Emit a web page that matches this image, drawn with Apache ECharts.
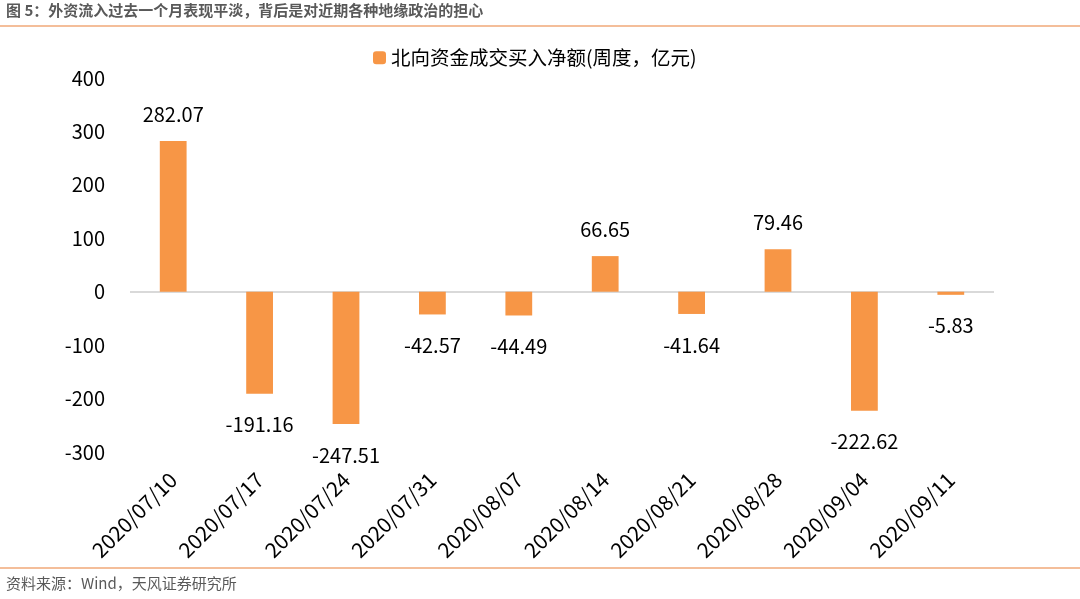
<!DOCTYPE html>
<html><head><meta charset="utf-8">
<script src="https://cdn.jsdelivr.net/npm/echarts@6/dist/echarts.min.js"></script>
<style>html,body{margin:0;padding:0;background:#fff}#c{width:1080px;height:599px}</style>
</head><body><div id="c"></div>
<script>
const categories = ['2020/07/10','2020/07/17','2020/07/24','2020/07/31','2020/08/07','2020/08/14','2020/08/21','2020/08/28','2020/09/04','2020/09/11'];
const netBuy = [282.07,-191.16,-247.51,-42.57,-44.49,66.65,-41.64,79.46,-222.62,-5.83];
const seriesName = '北向资金成交买入净额(周度，亿元)';
const titleText = '图 5：外资流入过去一个月表现平淡，背后是对近期各种地缘政治的担心';
const sourceText = '资料来源：Wind，天风证券研究所';
const yTicks = {min:-300, max:400, interval:100};

const font = '"Noto Sans CJK SC", "Noto Sans", sans-serif';
const chart = echarts.init(document.getElementById('c'), null, {renderer:'canvas'});
chart.setOption({
  animation:false,
  textStyle:{fontFamily:font},
  graphic:[
    {type:'text', left:6, top:3, style:{text:titleText, font:'bold 15px '+font, fill:'#595959'}},
    {type:'line', shape:{x1:0,y1:26,x2:1080,y2:26}, style:{stroke:'#F0A878', lineWidth:1.5}},
    {type:'line', shape:{x1:0,y1:568,x2:1080,y2:568}, style:{stroke:'#F0A878', lineWidth:1.5}},
    {type:'text', left:6, top:576, style:{text:sourceText, font:'15px '+font, fill:'#595959'}}
  ],
  legend:{data:[seriesName], left:368, top:43, itemWidth:13, itemHeight:13, itemGap:6,
    textStyle:{fontSize:19.5, color:'#000', fontFamily:font}},
  grid:{left:130, right:86, top:78, bottom:147, containLabel:false},
  xAxis:{type:'category', data:categories,
    axisLine:{show:false, onZero:false}, axisTick:{show:false},
    axisLabel:{rotate:45, fontSize:21, color:'#000', margin:24, interval:0, fontFamily:font}},
  yAxis:{type:'value', min:yTicks.min, max:yTicks.max, interval:yTicks.interval,
    splitLine:{show:false}, axisLine:{show:false}, axisTick:{show:false},
    axisLabel:{fontSize:20, color:'#000', margin:25, fontFamily:font}},
  series:[{
    name:seriesName, type:'bar',
    data:netBuy.map(v=>({value:v, label:{position: v>=0?'top':'bottom', distance: v>=0?17:21}})),
    barWidth:'31%',
    itemStyle:{color:'#F79646'},
    label:{show:true, fontSize:20, color:'#000', fontFamily:font},
    markLine:{silent:true, symbol:'none', label:{show:false}, z:1,
      lineStyle:{color:'#D9D9D9', type:'solid', width:2},
      data:[{yAxis:0}]}
  }]
});
</script></body></html>
